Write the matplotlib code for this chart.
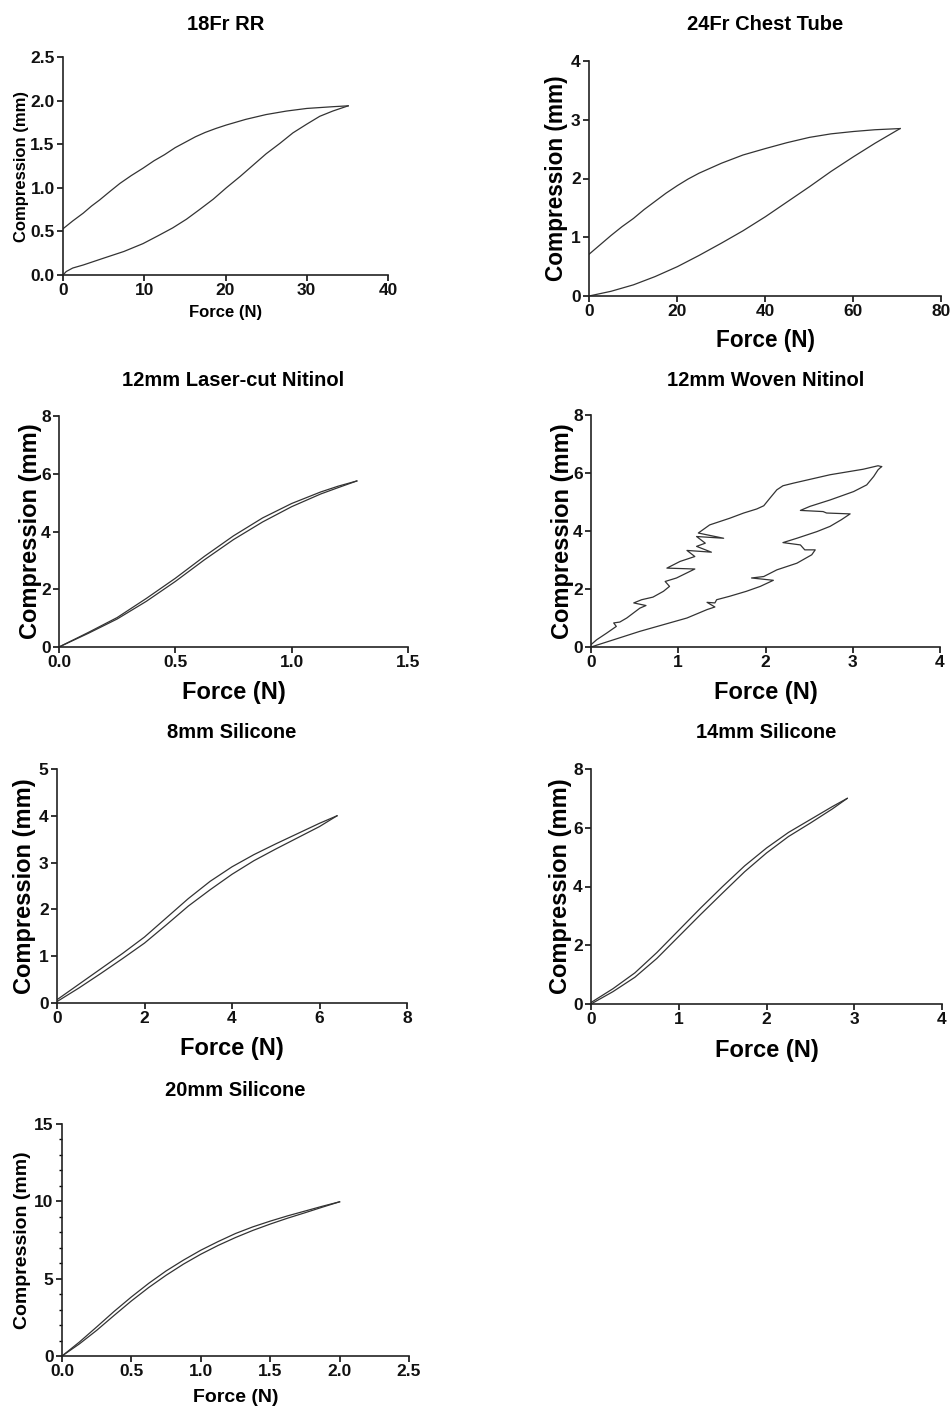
import numpy as np
import matplotlib
matplotlib.use('Agg')
import matplotlib.pyplot as plt
from matplotlib.ticker import MultipleLocator

plt.rcParams['font.family'] = ['Liberation Sans', 'DejaVu Sans']
plt.rcParams['font.weight'] = 'bold'

W, H = 952, 1407

# ---------------- data ----------------
titles = ['18Fr RR', '24Fr Chest Tube', '12mm Laser-cut Nitinol', '12mm Woven Nitinol',
          '8mm Silicone', '14mm Silicone', '20mm Silicone']

# 18Fr RR
rr_load_x = [0, 0.4, 1.2, 2.5, 4.9, 7.5, 9.85, 11.7, 13.5, 15.2, 16.8, 18.5, 20.1, 21.8, 23.4,
             25.0, 26.7, 28.3, 30.0, 31.6, 33.2, 35.1]
rr_load_y = [0, 0.04, 0.08, 0.115, 0.19, 0.27, 0.36, 0.45, 0.54, 0.64, 0.75, 0.87, 1.0, 1.13, 1.26,
             1.39, 1.51, 1.63, 1.73, 1.82, 1.88, 1.94]
rr_unload_x = [0, 1.2, 2.5, 3.5, 4.5, 5.8, 7.0, 8.4, 9.85, 11.2, 12.5, 13.8, 15.2, 16.3, 17.5,
               18.8, 20.1, 22.5, 25.0, 27.5, 30.0, 33.2, 35.1]
rr_unload_y = [0.53, 0.62, 0.71, 0.79, 0.86, 0.96, 1.05, 1.14, 1.225, 1.31, 1.38, 1.46, 1.53, 1.585, 1.635,
               1.68, 1.72, 1.785, 1.84, 1.88, 1.91, 1.93, 1.94]

# 24Fr Chest Tube
ct_load_x = [0, 5, 10.1, 15, 20.1, 25, 30.1, 35, 40.1, 45, 50.1, 55, 60.1, 65, 70.7]
ct_load_y = [0, 0.08, 0.19, 0.33, 0.5, 0.69, 0.9, 1.11, 1.35, 1.60, 1.86, 2.12, 2.37, 2.60, 2.85]
ct_unload_x = [0, 2.5, 5, 7.5, 10.1, 12.5, 15, 17.5, 20.1, 22.5, 25, 30.1, 35, 40.1, 45, 50.1,
               55, 60.1, 65, 70.7]
ct_unload_y = [0.71, 0.87, 1.03, 1.18, 1.32, 1.47, 1.61, 1.75, 1.88, 1.99, 2.09, 2.26, 2.40, 2.51,
               2.61, 2.70, 2.76, 2.80, 2.83, 2.85]

# 12mm Laser-cut Nitinol
lc_load_x = [0, 0.125, 0.25, 0.375, 0.5, 0.625, 0.75, 0.875, 1.0, 1.125, 1.2, 1.28]
lc_load_y = [0, 0.47, 0.97, 1.58, 2.27, 3.02, 3.72, 4.33, 4.86, 5.30, 5.52, 5.75]
lc_unload_x = [0, 0.125, 0.25, 0.375, 0.5, 0.625, 0.75, 0.875, 1.0, 1.125, 1.2, 1.28]
lc_unload_y = [0, 0.50, 1.02, 1.68, 2.38, 3.14, 3.85, 4.47, 4.97, 5.37, 5.57, 5.75]

# 12mm Woven Nitinol
wv_load_x = [0, 0.26, 0.56, 0.83, 1.10, 1.33, 1.42, 1.33, 1.42, 1.44, 1.59, 1.78, 1.94, 2.09,
             1.84, 1.98, 2.13, 2.36, 2.53, 2.57, 2.45, 2.40, 2.20, 2.36, 2.59, 2.74, 2.87,
             2.97, 2.70, 2.66, 2.40, 2.51, 2.74, 3.01, 3.16, 3.24, 3.29, 3.33]
wv_load_y = [0, 0.25, 0.54, 0.77, 1.00, 1.29, 1.38, 1.54, 1.52, 1.63, 1.75, 1.92, 2.09, 2.30,
             2.38, 2.43, 2.66, 2.89, 3.18, 3.35, 3.35, 3.52, 3.60, 3.75, 3.98, 4.16, 4.39,
             4.59, 4.62, 4.67, 4.71, 4.85, 5.07, 5.36, 5.59, 5.88, 6.11, 6.22]
wv_unload_x = [0, 0.065, 0.18, 0.29, 0.26, 0.33, 0.41, 0.56, 0.63, 0.49, 0.58, 0.71, 0.83, 0.90,
               0.85, 0.98, 1.19, 0.87, 1.02, 1.19, 1.10, 1.38, 1.21, 1.31, 1.21, 1.52, 1.23,
               1.36, 1.59, 1.75, 1.90, 1.98, 2.05, 2.13, 2.20, 2.32, 2.74, 3.12, 3.29, 3.33]
wv_unload_y = [0.08, 0.25, 0.48, 0.71, 0.83, 0.86, 1.00, 1.34, 1.43, 1.52, 1.63, 1.72, 1.92, 2.09,
               2.26, 2.38, 2.69, 2.72, 2.95, 3.12, 3.33, 3.27, 3.47, 3.58, 3.81, 3.75, 3.93,
               4.21, 4.44, 4.62, 4.76, 4.87, 5.13, 5.42, 5.56, 5.65, 5.94, 6.13, 6.25, 6.22]

# 8mm Silicone
s8_load_x = [0, 0.5, 1, 1.5, 2, 2.5, 3, 3.5, 4, 4.5, 5, 5.5, 6, 6.4]
s8_load_y = [0.03, 0.32, 0.63, 0.95, 1.28, 1.67, 2.07, 2.42, 2.75, 3.04, 3.29, 3.53, 3.77, 4.0]
s8_unload_x = [0, 0.5, 1, 1.5, 2, 2.5, 3, 3.5, 4, 4.5, 5, 5.5, 6, 6.4]
s8_unload_y = [0.07, 0.40, 0.73, 1.06, 1.41, 1.82, 2.23, 2.60, 2.91, 3.17, 3.40, 3.62, 3.84, 4.0]

# 14mm Silicone
s14_load_x = [0, 0.25, 0.5, 0.75, 1, 1.25, 1.5, 1.75, 2, 2.25, 2.5, 2.75, 2.92]
s14_load_y = [0, 0.42, 0.91, 1.55, 2.30, 3.05, 3.78, 4.50, 5.14, 5.70, 6.16, 6.64, 7.0]
s14_unload_x = [0, 0.25, 0.5, 0.75, 1, 1.25, 1.5, 1.75, 2, 2.25, 2.5, 2.75, 2.92]
s14_unload_y = [0.05, 0.52, 1.06, 1.75, 2.51, 3.27, 4.00, 4.70, 5.31, 5.84, 6.28, 6.72, 7.0]

# 20mm Silicone
s20_load_x = [0, 0.125, 0.25, 0.375, 0.5, 0.625, 0.75, 0.875, 1.0, 1.125, 1.25, 1.375, 1.5,
              1.625, 1.75, 1.875, 2.0]
s20_load_y = [0, 0.78, 1.66, 2.62, 3.56, 4.43, 5.22, 5.94, 6.58, 7.15, 7.66, 8.12, 8.53,
              8.91, 9.26, 9.62, 9.97]
s20_unload_x = [0, 0.125, 0.25, 0.375, 0.5, 0.625, 0.75, 0.875, 1.0, 1.125, 1.25, 1.375, 1.5,
                1.625, 1.75, 1.875, 2.0]
s20_unload_y = [0, 0.90, 1.88, 2.88, 3.82, 4.70, 5.50, 6.20, 6.84, 7.40, 7.92, 8.35, 8.72,
                9.06, 9.37, 9.68, 9.97]

xticks_list = [[0, 10, 20, 30, 40], [0, 20, 40, 60, 80], [0, 0.5, 1.0, 1.5], [0, 1, 2, 3, 4],
               [0, 2, 4, 6, 8], [0, 1, 2, 3, 4], [0, 0.5, 1.0, 1.5, 2.0, 2.5]]
xticklabels_list = [['0', '10', '20', '30', '40'], ['0', '20', '40', '60', '80'],
                    ['0.0', '0.5', '1.0', '1.5'], ['0', '1', '2', '3', '4'],
                    ['0', '2', '4', '6', '8'], ['0', '1', '2', '3', '4'],
                    ['0.0', '0.5', '1.0', '1.5', '2.0', '2.5']]
yticks_list = [[0, 0.5, 1.0, 1.5, 2.0, 2.5], [0, 1, 2, 3, 4], [0, 2, 4, 6, 8], [0, 2, 4, 6, 8],
               [0, 1, 2, 3, 4, 5], [0, 2, 4, 6, 8], [0, 5, 10, 15]]
yticklabels_list = [['0.0', '0.5', '1.0', '1.5', '2.0', '2.5'], ['0', '1', '2', '3', '4'],
                    ['0', '2', '4', '6', '8'], ['0', '2', '4', '6', '8'],
                    ['0', '1', '2', '3', '4', '5'], ['0', '2', '4', '6', '8'],
                    ['0', '5', '10', '15']]

curves = [
    [(rr_load_x, rr_load_y), (rr_unload_x, rr_unload_y)],
    [(ct_load_x, ct_load_y), (ct_unload_x, ct_unload_y)],
    [(lc_load_x, lc_load_y), (lc_unload_x, lc_unload_y)],
    [(wv_load_x, wv_load_y), (wv_unload_x, wv_unload_y)],
    [(s8_load_x, s8_load_y), (s8_unload_x, s8_unload_y)],
    [(s14_load_x, s14_load_y), (s14_unload_x, s14_unload_y)],
    [(s20_load_x, s20_load_y), (s20_unload_x, s20_unload_y)],
]

# ---------------- layout (pixels in the 952x1407 picture) ----------------
# left, right, top, bottom of each axes
boxes = [(63, 388, 57, 275), (589, 941, 61, 296), (59, 408, 416, 647), (591, 940, 415, 647),
         (57, 407, 769, 1003), (591, 942, 769, 1004), (62, 409, 1124, 1356)]
title_y = [25, 25, 380, 380, 733, 733, 1090]
xlabel_y = [313, 340, 693, 693, 1048, 1050, 1397]
ylabel_x = [22, 557, 31, 562, 25, 560, 23]
label_size = [12, 16.3, 17, 17, 17, 17, 14]

fig = plt.figure(figsize=(W / 100, H / 100), dpi=100)

for i in range(7):
    l, r, t, b = boxes[i]
    ax = fig.add_axes([l / W, 1 - b / H, (r - l) / W, (b - t) / H])
    for xs, ys in curves[i]:
        ax.plot(xs, ys, color='#333333', lw=0.9)
    ax.set_xlim(xticks_list[i][0], xticks_list[i][-1])
    ax.set_ylim(yticks_list[i][0], yticks_list[i][-1])
    ax.set_xticks(xticks_list[i])
    ax.set_xticklabels(xticklabels_list[i])
    ax.set_yticks(yticks_list[i])
    ax.set_yticklabels(yticklabels_list[i])
    for s in ['top', 'right']:
        ax.spines[s].set_visible(False)
    for s in ['left', 'bottom']:
        ax.spines[s].set_linewidth(1.2)
        ax.spines[s].set_color('#222222')
    ax.tick_params(direction='out', length=4, width=1.2, pad=2, labelsize=12.5, colors='#111111')
    if i == 6:
        ax.yaxis.set_minor_locator(MultipleLocator(1))
        ax.tick_params(axis='y', which='minor', direction='out', length=2.5, width=1.0)
    for lab in ax.get_xticklabels() + ax.get_yticklabels():
        lab.set_fontweight('bold')
    ax.patch.set_visible(False)

    # title
    fig.text((l + r) / 2 / W, 1 - title_y[i] / H, titles[i], ha='center', va='center',
             fontsize=14.5, fontweight='bold')
    # axis labels
    fig.text((l + r) / 2 / W, 1 - xlabel_y[i] / H, 'Force (N)', ha='center', va='center',
             fontsize=label_size[i], fontweight='bold')
    fig.text(ylabel_x[i] / W, 1 - (t + b) / 2 / H, 'Compression (mm)', ha='center', va='center',
             rotation=90, fontsize=label_size[i], fontweight='bold')

fig.savefig('out.png', dpi=100)
